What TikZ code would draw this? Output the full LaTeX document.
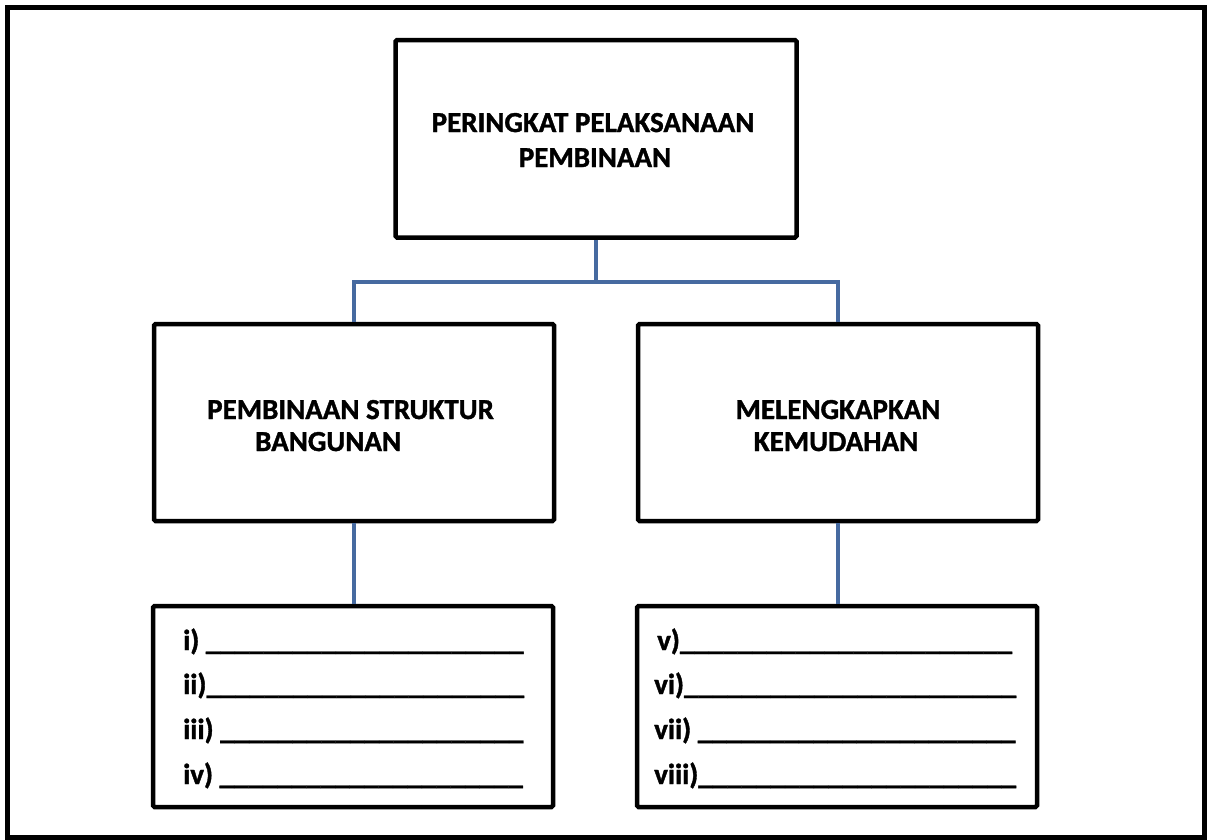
\documentclass[tikz,border=0pt]{standalone}
\usepackage{fontspec}
\setmainfont{Carlito}[BoldFont={Carlito Bold}, BoldFeatures={FakeBold=1.3}]
\definecolor{connblue}{RGB}{70,106,160}
\tikzset{
  box/.style={draw=black, line width=4.5pt, rounded corners=1.5pt, rectangle, inner sep=0pt},
  conn/.style={draw=connblue, line width=4.5pt},
  title/.style={font=\bfseries\fontsize{29}{35}\selectfont, inner sep=0pt},
  blank/.style={font=\bfseries\fontsize{29}{35}\selectfont, inner sep=0pt, anchor=base west}
}
\begin{document}
\begin{tikzpicture}[x=1pt,y=-1pt]
\useasboundingbox (0,0) rectangle (1207,839);
\draw[line width=5pt] (7.5,7.5) rectangle (1204.5,837.5);
% boxes
\node[box, minimum width=401pt, minimum height=197.5pt] (top) at (596,138.75) {};
\node[box, minimum width=400pt, minimum height=197pt] (ml) at (354,422.5) {};
\node[box, minimum width=400pt, minimum height=197pt] (mr) at (838,422.5) {};
\node[box, minimum width=400pt, minimum height=201pt] (bl) at (353,706.5) {};
\node[box, minimum width=400pt, minimum height=201pt] (br) at (837,706.5) {};
% connectors
\coordinate (j) at (596,282);
\draw[conn] (top.south) -- (j);
\draw[conn] (ml.north) |- (j) -| (mr.north);
\draw[conn] (ml.south) -- (ml.south |- bl.north);
\draw[conn] (mr.south) -- (mr.south |- br.north);
% titles
\node[title, anchor=base] (t1) at (593,132) {PERINGKAT PELAKSANAAN};
\node[title, anchor=base] (t2) at (595,167) {PEMBINAAN};
\node[title, anchor=base west] (l1) at (207,419) {PEMBINAAN STRUKTUR};
\node[title, anchor=base west] (l2) at (255,451) {BANGUNAN};
\node[title, anchor=base] (r1) at (838,419) {MELENGKAPKAN};
\node[title, anchor=base] (r2) at (836,451) {KEMUDAHAN};
% blanks
\node[blank] (b1) at (183,650) {i) \_\_\_\_\_\_\_\_\_\_\_\_\_\_\_\_\_\_\_\_\_\_};
\node[blank] (b2) at (183,694) {ii)\_\_\_\_\_\_\_\_\_\_\_\_\_\_\_\_\_\_\_\_\_\_};
\node[blank] (b3) at (183,739) {iii) \_\_\_\_\_\_\_\_\_\_\_\_\_\_\_\_\_\_\_\_\_};
\node[blank] (b4) at (183,784) {iv) \_\_\_\_\_\_\_\_\_\_\_\_\_\_\_\_\_\_\_\_\_};
\node[blank] (b5) at (657,650) {v)\_\_\_\_\_\_\_\_\_\_\_\_\_\_\_\_\_\_\_\_\_\_\_};
\node[blank] (b6) at (654,694) {vi)\_\_\_\_\_\_\_\_\_\_\_\_\_\_\_\_\_\_\_\_\_\_\_};
\node[blank] (b7) at (654,739) {vii) \_\_\_\_\_\_\_\_\_\_\_\_\_\_\_\_\_\_\_\_\_\_};
\node[blank] (b8) at (654,784) {viii)\_\_\_\_\_\_\_\_\_\_\_\_\_\_\_\_\_\_\_\_\_\_};
\end{tikzpicture}
\end{document}
